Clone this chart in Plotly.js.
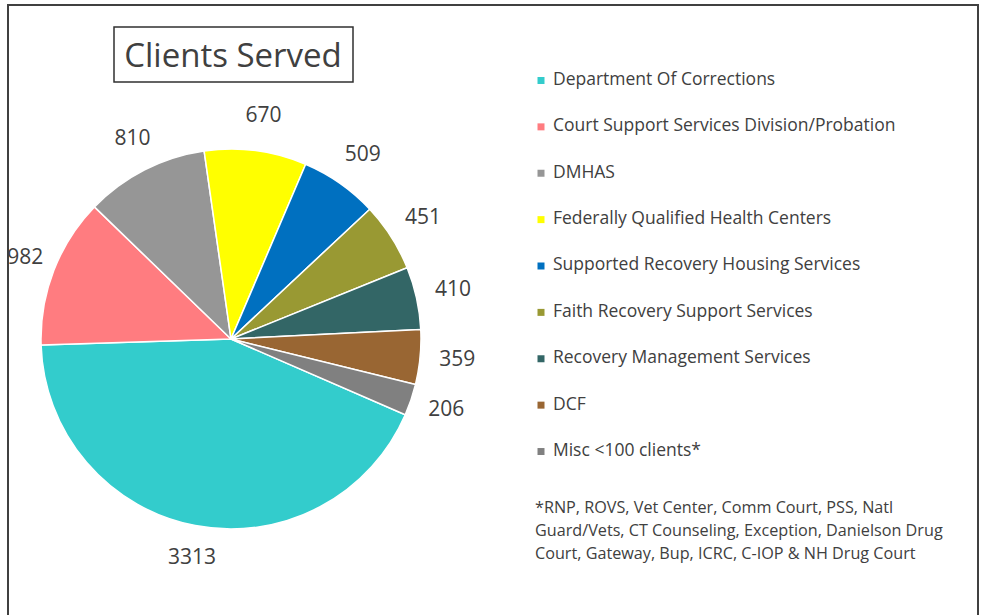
<!DOCTYPE html>
<html>
<head>
<meta charset="utf-8">
<script src="https://cdn.plot.ly/plotly-3.0.1.min.js"></script>
<style>html,body{margin:0;padding:0;background:#fff;}#chart{width:984px;height:615px;}</style>
</head>
<body>
<div id="chart"></div>
<script>
const categories = [
  "Department Of Corrections",
  "Court Support Services Division/Probation",
  "DMHAS",
  "Federally Qualified Health Centers",
  "Supported Recovery Housing Services",
  "Faith Recovery Support Services",
  "Recovery Management Services",
  "DCF",
  "Misc <100 clients*"
];
const clients = [3313, 982, 810, 670, 509, 451, 410, 359, 206];
const colors = ["#33CCCC", "#FF7C80", "#969696", "#FFFF00", "#0070C0", "#999933", "#336666", "#996633", "#808080"];
const footnoteLines = [
  "*RNP, ROVS, Vet Center, Comm Court, PSS, Natl",
  "Guard/Vets, CT Counseling, Exception, Danielson Drug",
  "Court, Gateway, Bup, ICRC, C-IOP & NH Drug Court"
];
const chartTitle = "Clients Served";

const W = 984, H = 615;
const FONT = "Open Sans, Lato, sans-serif";
const CX = 231, CY = 339, R = 190;
const ROT = 113.5;          // angle of first slice (degrees clockwise from 12 o'clock)
const LABEL_R = 1.195;      // label distance as a fraction of the pie radius
const POLAR_MAX = 1.25;     // radial range of the label overlay (pie edge = 1)

const pieDomain = {x: [(CX - R) / W, (CX + R) / W], y: [(H - CY - R) / H, (H - CY + R) / H]};
const PR = R * POLAR_MAX;
const polarDomain = {x: [(CX - PR) / W, (CX + PR) / W], y: [(H - CY - PR) / H, (H - CY + PR) / H]};

const pie = {
  type: "pie",
  labels: categories,
  values: clients,
  sort: false,
  direction: "clockwise",
  rotation: ROT,
  marker: {colors: colors, line: {color: "#ffffff", width: 1.5}},
  textinfo: "none",
  automargin: false,
  showlegend: false,
  hoverinfo: "label+value",
  domain: pieDomain
};

// value labels, placed Excel-style on each slice's bisector using a polar overlay
const total = clients.reduce((a, b) => a + b, 0);
let acc = 0;
const midAngles = clients.map(v => { const m = ROT + 360 * (acc + v / 2) / total; acc += v; return m % 360; });
const valueLabels = {
  type: "scatterpolar",
  mode: "text",
  r: clients.map(() => LABEL_R),
  theta: midAngles,
  text: clients.map(String),
  textposition: "middle center",
  textfont: {family: FONT, size: 21, color: "#404040"},
  cliponaxis: false,
  hoverinfo: "skip",
  showlegend: false,
  subplot: "polar"
};

const legendMarkers = {
  type: "scatter",
  mode: "markers",
  x: categories.map(() => 0),
  y: categories,
  xaxis: "x2",
  yaxis: "y2",
  marker: {symbol: "square", size: 7, color: colors},
  cliponaxis: false,
  hoverinfo: "skip",
  showlegend: false
};

const legendText = {
  type: "scatter",
  mode: "text",
  x: categories.map(() => 0.027),
  y: categories,
  xaxis: "x2",
  yaxis: "y2",
  text: categories,
  textposition: "middle right",
  textfont: {family: FONT, size: 17.5, color: "#404040"},
  cliponaxis: false,
  hoverinfo: "skip",
  showlegend: false
};

const annotations = footnoteLines.map((t, i) => ({
  xref: "paper", yref: "paper",
  x: 533 / W, y: 1 - (507 + 23 * i) / H,
  xanchor: "left", yanchor: "middle",
  text: t, showarrow: false,
  font: {family: FONT, size: 16.2, color: "#404040"}
}));

const layout = {
  width: W, height: H,
  margin: {l: 0, r: 0, t: 0, b: 0},
  paper_bgcolor: "#ffffff",
  plot_bgcolor: "rgba(0,0,0,0)",
  showlegend: false,
  title: {
    text: chartTitle,
    x: 233 / W, xanchor: "center",
    y: 1 - 55 / H, yanchor: "middle",
    font: {family: FONT, size: 33, color: "#404040"}
  },
  polar: {
    domain: polarDomain,
    bgcolor: "rgba(0,0,0,0)",
    radialaxis: {range: [0, POLAR_MAX], showline: false, showgrid: false, showticklabels: false, ticks: ""},
    angularaxis: {rotation: 90, direction: "clockwise", showline: false, showgrid: false, showticklabels: false, ticks: ""}
  },
  xaxis2: {domain: [541 / W, 1], range: [0, 1], visible: false, fixedrange: true},
  yaxis2: {domain: [(H - 477) / H, (H - 55) / H], type: "category", autorange: "reversed", visible: false, fixedrange: true, anchor: "x2"},
  annotations: annotations,
  shapes: [
    {type: "rect", xref: "paper", yref: "paper", x0: 8 / W, x1: 978 / W, y0: -0.02, y1: 1 - 5 / H,
     line: {color: "#404040", width: 2}, fillcolor: "rgba(0,0,0,0)"},
    {type: "rect", xref: "paper", yref: "paper", x0: 114 / W, x1: 353 / W, y0: 1 - 82 / H, y1: 1 - 27 / H,
     line: {color: "#303030", width: 1.5}, fillcolor: "rgba(0,0,0,0)"}
  ]
};

Plotly.newPlot("chart", [pie, valueLabels, legendMarkers, legendText], layout, {displayModeBar: false, staticPlot: true});
</script>
</body>
</html>
